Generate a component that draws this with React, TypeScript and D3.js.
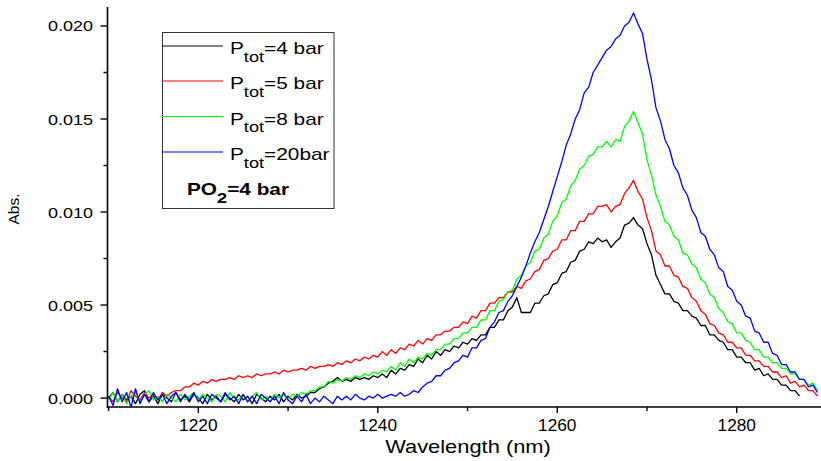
import React from 'react';
import * as d3 from 'd3';

// Absorption spectra, sampled every 0.5 nm from 1210 nm, absorbance in units of 1e-4
const WL_START = 1210;
const WL_STEP = 0.5;
const ABS_UNIT = 1e-4;

const absPtot4 = [
  0, 3, -2, 2, -1, 1, -3, 2, 4, -2,
  1, -3, 2, 0, -2, 3, -1, 1, -2, 2,
  0, -3, 2, -1, 1, -2, 2, 0, -2, 2,
  -1, 1, -3, 2, 0, -2, 1, -1, 2, -2,
  1, -1, 2, 0, 1, 3, 3, 5, 6, 8,
  9, 11, 9, 10, 9, 11, 10, 11, 10, 12,
  11, 13, 11, 15, 13, 16, 15, 18, 17, 21,
  19, 23, 21, 25, 23, 26, 25, 28, 27, 30,
  29, 32, 31, 34, 34, 38, 38, 42, 42, 47,
  49, 54, 46, 46, 46, 51, 51, 55, 56, 61,
  62, 67, 68, 73, 74, 79, 80, 84, 83, 86,
  84, 85, 81, 84, 86, 93, 94, 97, 93, 91,
  83, 77, 66, 61, 56, 56, 52, 51, 47, 47,
  44, 43, 39, 39, 34, 34, 31, 30, 26, 26,
  22, 22, 19, 19, 15, 16, 12, 13, 10, 10,
  7, 7, 4, 4, 1,
];

const absPtot5 = [
  1, -2, 3, 0, -2, 4, 1, -1, 3, 0,
  2, -1, 3, 1, 3, 4, 4, 6, 6, 8,
  7, 9, 8, 10, 9, 10, 10, 11, 10, 12,
  11, 12, 11, 13, 12, 13, 13, 14, 13, 15,
  14, 15, 15, 16, 15, 17, 16, 17, 17, 18,
  17, 19, 18, 20, 19, 21, 20, 22, 21, 23,
  22, 25, 23, 26, 24, 27, 26, 29, 28, 31,
  29, 32, 31, 34, 34, 36, 36, 38, 38, 41,
  40, 44, 43, 47, 47, 51, 51, 54, 54, 57,
  57, 60, 59, 63, 64, 68, 69, 74, 75, 79,
  80, 85, 85, 90, 90, 95, 95, 99, 99, 103,
  103, 104, 100, 103, 104, 110, 113, 117, 111, 107,
  97, 90, 79, 77, 71, 71, 66, 65, 60, 59,
  54, 52, 47, 45, 40, 39, 35, 34, 30, 30,
  27, 27, 23, 23, 20, 20, 17, 17, 14, 14,
  11, 12, 8, 9, 6, 7, 4, 4, 1,
];

const absPtot8 = [
  -1, 3, -2, 2, -3, 1, 3, -2, 2, 4,
  -1, 1, -2, 2, 0, -2, 2, -1, 1, 3,
  -1, 2, 0, -2, 2, 1, -2, 3, 0, -1,
  2, -2, 1, 3, -1, 1, -2, 2, 0, 2,
  -1, 2, 1, 3, 2, 4, 4, 6, 6, 9,
  8, 10, 9, 11, 10, 12, 11, 13, 12, 14,
  13, 15, 14, 17, 15, 19, 17, 21, 19, 22,
  21, 24, 23, 26, 26, 29, 29, 32, 32, 35,
  35, 38, 38, 42, 42, 47, 47, 52, 53, 57,
  58, 64, 66, 71, 73, 79, 80, 86, 88, 95,
  98, 105, 107, 114, 117, 123, 125, 130, 131, 135,
  135, 138, 135, 139, 138, 146, 149, 154, 148, 142,
  128, 120, 109, 103, 95, 93, 87, 85, 78, 77,
  72, 70, 64, 62, 56, 54, 48, 46, 41, 40,
  35, 35, 31, 30, 26, 26, 22, 22, 19, 19,
  16, 16, 13, 13, 10, 10, 7, 8, 4,
];

const absPtot20 = [
  1, -4, 5, -2, 3, -5, 5, -3, 2, -2,
  3, -1, 2, -3, 1, 3, -2, 2, -1, 3,
  -2, 1, -3, 2, 0, -2, 3, -1, 1, -3,
  2, -2, 1, -3, 2, 0, -2, 1, -3, 3,
  -1, -3, 1, -2, 2, -3, 0, -2, 1, -1,
  -3, 1, -1, 1, -1, 2, 0, -1, 1, 0,
  2, 0, 1, 2, 1, 3, 1, 2, 4, 3,
  6, 8, 9, 12, 12, 15, 16, 19, 20, 23,
  22, 27, 27, 31, 32, 38, 41, 46, 47, 52,
  55, 60, 65, 71, 78, 84, 89, 96, 103, 111,
  119, 127, 136, 142, 150, 155, 164, 167, 175, 179,
  183, 187, 189, 193, 195, 200, 202, 207, 201, 196,
  182, 171, 156, 149, 139, 134, 125, 121, 113, 109,
  101, 97, 89, 87, 80, 77, 70, 68, 60, 58,
  52, 50, 44, 43, 36, 35, 30, 30, 24, 23,
  18, 18, 14, 14, 10, 10, 6, 7, 3,
];

const seriesLabels = ['4 bar', '5 bar', '8 bar', '20bar'];
const seriesColors = ['#000000', '#ff0000', '#00ff00', '#0000ff'];
const seriesValues = [absPtot4, absPtot5, absPtot8, absPtot20];

const xMajorTicks = [1220, 1240, 1260, 1280];
const xMinorTicks = [1210, 1230, 1250, 1270];
const yMajorTicks = [0, 0.005, 0.01, 0.015, 0.02];
const yMinorTicks = [0.0025, 0.0075, 0.0125, 0.0175];

const FONT = "Arial, 'Liberation Sans', Helvetica, sans-serif";

function SText({ x, y, sx = 1, size, anchor = 'start', weight = 'normal', rotate = 0, children }: any) {
  return (
    <g transform={`translate(${x},${y}) rotate(${rotate}) scale(${sx},1)`}>
      <text textAnchor={anchor} fontSize={size} fontWeight={weight} fontFamily={FONT} fill="#000">
        {children}
      </text>
    </g>
  );
}

export default function App() {
  const W = 821;
  const H = 461;
  const left = 107.5;
  const bottom = 407;
  const top = 7;

  const x = d3.scaleLinear().domain([1209.88, 1289.39]).range([left, W]);
  const y = d3.scaleLinear().domain([-0.00048, 0.02102]).range([bottom, top]);

  const line = d3
    .line<number>()
    .x((_, i) => x(WL_START + i * WL_STEP))
    .y((d) => y(d * ABS_UNIT));

  const fmt = d3.format('.3f');

  const legendX0 = 162;
  const legendX1 = 223;
  const legendRows = [46, 81, 116.5, 152];

  return (
    <svg
      width={W}
      height={H}
      style={{ position: 'absolute', left: 0, top: 0, background: '#fff' }}
    >
      <defs>
        <clipPath id="plot-area">
          <rect x={left} y={0} width={W - left} height={bottom - 0.5} />
        </clipPath>
      </defs>

      <g clipPath="url(#plot-area)">
        {seriesValues.map((vals, k) => (
          <path
            key={k}
            d={line(vals) || ''}
            fill="none"
            stroke={seriesColors[k]}
            strokeWidth={1.3}
            strokeLinejoin="round"
          />
        ))}
      </g>

      {/* axes */}
      <line x1={left} x2={left} y1={top} y2={bottom + 0.8} stroke="#000" strokeWidth={1.6} />
      <line x1={left - 0.8} x2={W} y1={bottom} y2={bottom} stroke="#000" strokeWidth={1.6} />

      {xMajorTicks.map((t) => (
        <g key={`xM${t}`}>
          <line x1={x(t)} x2={x(t)} y1={bottom} y2={bottom + 6} stroke="#000" strokeWidth={1.4} />
          <SText x={x(t)} y={431} sx={1.08} size={16} anchor="middle">
            {t}
          </SText>
        </g>
      ))}
      {xMinorTicks.map((t) => (
        <line key={`xm${t}`} x1={x(t)} x2={x(t)} y1={bottom} y2={bottom + 4} stroke="#000" strokeWidth={1.4} />
      ))}

      {yMajorTicks.map((t) => (
        <g key={`yM${t}`}>
          <line x1={left - 7} x2={left} y1={y(t)} y2={y(t)} stroke="#000" strokeWidth={1.4} />
          <SText x={93} y={y(t) + 5.5} sx={1.2} size={15} anchor="end">
            {fmt(t)}
          </SText>
        </g>
      ))}
      {yMinorTicks.map((t) => (
        <line key={`ym${t}`} x1={left - 4} x2={left} y1={y(t)} y2={y(t)} stroke="#000" strokeWidth={1.4} />
      ))}

      <SText x={468} y={453} sx={1.25} size={17.5} anchor="middle">
        Wavelength (nm)
      </SText>
      <SText x={18.5} y={209} size={15.5} anchor="middle" rotate={-90}>
        Abs.
      </SText>

      {/* legend */}
      <rect x={162.5} y={32.5} width={171.5} height={176} fill="#fff" stroke="#333" strokeWidth={1} />
      {seriesLabels.map((lab, k) => (
        <g key={lab}>
          <line
            x1={legendX0}
            x2={legendX1}
            y1={legendRows[k]}
            y2={legendRows[k]}
            stroke={seriesColors[k]}
            strokeWidth={1}
          />
          <SText x={230} y={legendRows[k] + 8} sx={1.3} size={16}>
            <tspan>P</tspan>
            <tspan fontSize={14} dy={7.7}>
              tot
            </tspan>
            <tspan dy={-7.7}>={lab}</tspan>
          </SText>
        </g>
      ))}
      <SText x={187} y={195} sx={1.3} size={16} weight="bold">
        <tspan>PO</tspan>
        <tspan fontSize={14} dy={7.5}>
          2
        </tspan>
        <tspan dy={-7.5}>=4 bar</tspan>
      </SText>
    </svg>
  );
}
